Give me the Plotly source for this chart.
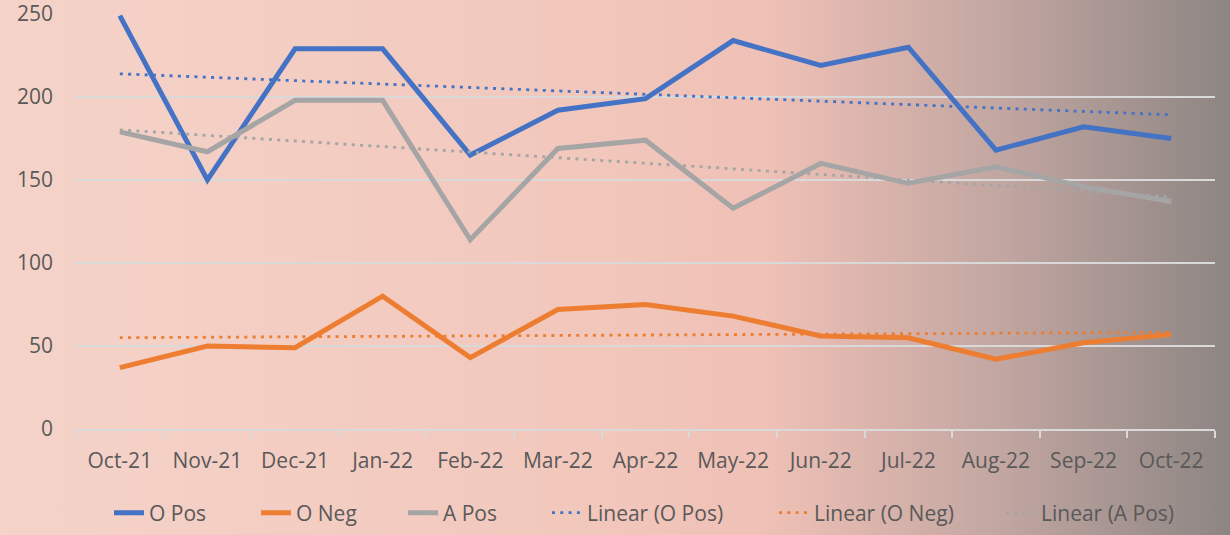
import base64
import numpy as np
import plotly.graph_objects as go

months = ["Oct-21", "Nov-21", "Dec-21", "Jan-22", "Feb-22", "Mar-22", "Apr-22",
          "May-22", "Jun-22", "Jul-22", "Aug-22", "Sep-22", "Oct-22"]
o_pos = [249, 150, 229, 229, 165, 192, 199, 234, 219, 230, 168, 182, 175]
o_neg = [37, 50, 49, 80, 43, 72, 75, 68, 56, 55, 42, 52, 57]
a_pos = [179, 167, 198, 198, 114, 169, 174, 133, 160, 148, 158, 146, 137]

series_names = ["O Pos", "O Neg", "A Pos"]
series_vals = [o_pos, o_neg, a_pos]
colors = ["#4472C4", "#ED7D31", "#A5A5A5"]

W, H = 1230, 535
ML, MR, MT, MB = 76, 15, 14, 106
PW, PH = W - ML - MR, H - MT - MB

fig = go.Figure()
for name, vals, col in zip(series_names, series_vals, colors):
    fig.add_trace(go.Scatter(x=months, y=vals, name=name, mode="lines",
                             line=dict(color=col, width=5), legend="legend",
                             hoverinfo="skip"))
idx = np.arange(len(months))
for name, vals, col in zip(series_names, series_vals, colors):
    slope, icpt = np.polyfit(idx, np.array(vals, dtype=float), 1)
    trend = slope * idx + icpt
    fig.add_trace(go.Scatter(x=months, y=trend, name=f"Linear ({name})", mode="lines",
                             line=dict(color=col, width=2.8, dash="3px,5.3px"),
                             legend="legend2", hoverinfo="skip"))

svg = f'''<svg xmlns="http://www.w3.org/2000/svg" width="{W}" height="{H}" viewBox="0 0 {W} {H}" preserveAspectRatio="none">
<defs><linearGradient id="g" x1="0" y1="0" x2="1" y2="0">
<stop offset="0" stop-color="#F5D3C9"/>
<stop offset="0.45" stop-color="#F2C8BD"/>
<stop offset="0.62" stop-color="#F0C1B6"/>
<stop offset="0.82" stop-color="#C0A5A0"/>
<stop offset="1" stop-color="#8D8583"/>
</linearGradient></defs>
<rect x="0" y="0" width="{W}" height="{H}" fill="url(#g)"/></svg>'''
src = "data:image/svg+xml;base64," + base64.b64encode(svg.encode()).decode()

font_col = "#595959"
FS = 21
leg_y = (H - 513) / H
fig.update_layout(
    width=W, height=H,
    margin=dict(l=ML, r=MR, t=MT, b=MB, pad=0, autoexpand=False),
    paper_bgcolor="rgba(0,0,0,0)", plot_bgcolor="rgba(0,0,0,0)",
    font=dict(family="Open Sans", size=FS, color=font_col),
    images=[dict(source=src, xref="paper", yref="paper", x=-ML / PW, y=1 + MT / PH,
                 sizex=W / PW, sizey=H / PH, xanchor="left", yanchor="top",
                 sizing="stretch", layer="below")],
    xaxis=dict(type="category", range=[-0.5, 12.5], showgrid=False, showline=True,
               linecolor="#D9D9D9", linewidth=1.5, ticks="outside", tickson="boundaries",
               ticklen=7, tickcolor="#D9D9D9", tickwidth=1.5, ticklabelstandoff=12,
               automargin=False, ticklabeloverflow="allow",
               tickfont=dict(size=FS, color=font_col)),
    yaxis=dict(range=[0, 250], dtick=50, showgrid=True, gridcolor="#D9D9D9", gridwidth=1.5,
               zeroline=False, showline=False, ticks="", ticklabelstandoff=22,
               automargin=False, ticklabeloverflow="allow",
               tickfont=dict(size=FS, color=font_col)),
    showlegend=True,
    legend=dict(orientation="h", xref="container", yref="container", x=109 / W,
                xanchor="left", y=leg_y, yanchor="middle", entrywidth=102,
                bgcolor="rgba(0,0,0,0)", font=dict(size=FS, color=font_col),
                traceorder="normal"),
    legend2=dict(orientation="h", xref="container", yref="container", x=547 / W,
                 xanchor="left", y=leg_y, yanchor="middle", entrywidth=182,
                 bgcolor="rgba(0,0,0,0)", font=dict(size=FS, color=font_col),
                 traceorder="normal"),
)
fig.write_html("out.html", config={"displayModeBar": False},
               post_script="document.body.style.margin='0';document.body.style.padding='0';"
                           "document.body.style.overflow='hidden';")
